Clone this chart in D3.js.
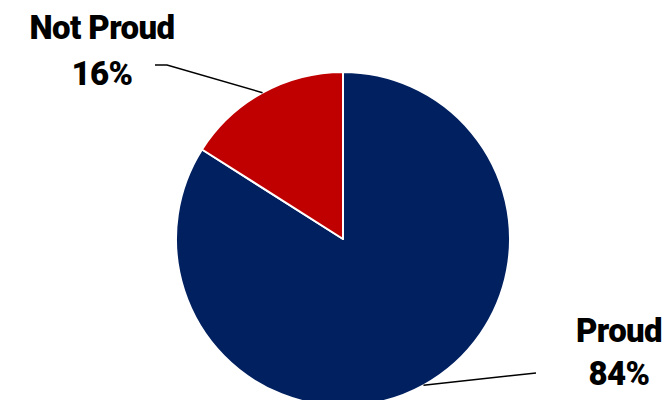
<!DOCTYPE html>
<html><head><meta charset="utf-8">
<script src="https://cdn.jsdelivr.net/npm/d3@7"></script>
<style>body{margin:0;background:#fff}svg{display:block}</style>
</head><body>
<svg id="c" width="667" height="400"></svg>
<script>
const categories = ["Proud", "Not Proud"];
const values = [84, 16];
const valueLabels = ["84%", "16%"];
const colors = ["#002060", "#C00000"];

const svg = d3.select("#c");
const cx = 343, cy = 239, R = 167;
const g = svg.append("g").attr("transform", `translate(${cx},${cy})`);
const pie = d3.pie().sort(null).value(d => d.v);
const arcs = pie(categories.map((c, i) => ({c, v: values[i], l: valueLabels[i], col: colors[i]})));
const arc = d3.arc().innerRadius(0).outerRadius(R);

g.selectAll("path.slice").data(arcs).join("path")
  .attr("class", "slice")
  .attr("d", arc)
  .attr("fill", d => d.data.col)
  .attr("stroke", "#fff").attr("stroke-width", 2).attr("stroke-linejoin", "round");

// label layout (positions relative to chart centre)
const layout = {
  "Proud": {elbow: [193, 134], end: [193, 134], tx: 276, ty1: 103, ty2: 146},
  "Not Proud": {elbow: [-176, -174], end: [-188, -174], tx: -241, ty1: -200, ty2: -154}
};
arcs.forEach(d => {
  const a = (d.startAngle + d.endAngle) / 2;
  const p0 = [Math.sin(a) * R, -Math.cos(a) * R];
  const L = layout[d.data.c];
  g.append("polyline")
    .attr("points", [p0, L.elbow, L.end].map(p => p.join(",")).join(" "))
    .attr("fill", "none").attr("stroke", "#000").attr("stroke-width", 1.5);
  const t = g.append("text").attr("text-anchor", "middle")
    .attr("font-family", "Roboto, 'Liberation Sans', sans-serif")
    .attr("font-weight", 900).attr("font-size", 33).attr("fill", "#000")
    .attr("letter-spacing", -0.6);
  t.append("tspan").attr("x", L.tx).attr("y", L.ty1).text(d.data.c);
  t.append("tspan").attr("x", L.tx).attr("y", L.ty2).text(d.data.l);
});
</script>
</body></html>
